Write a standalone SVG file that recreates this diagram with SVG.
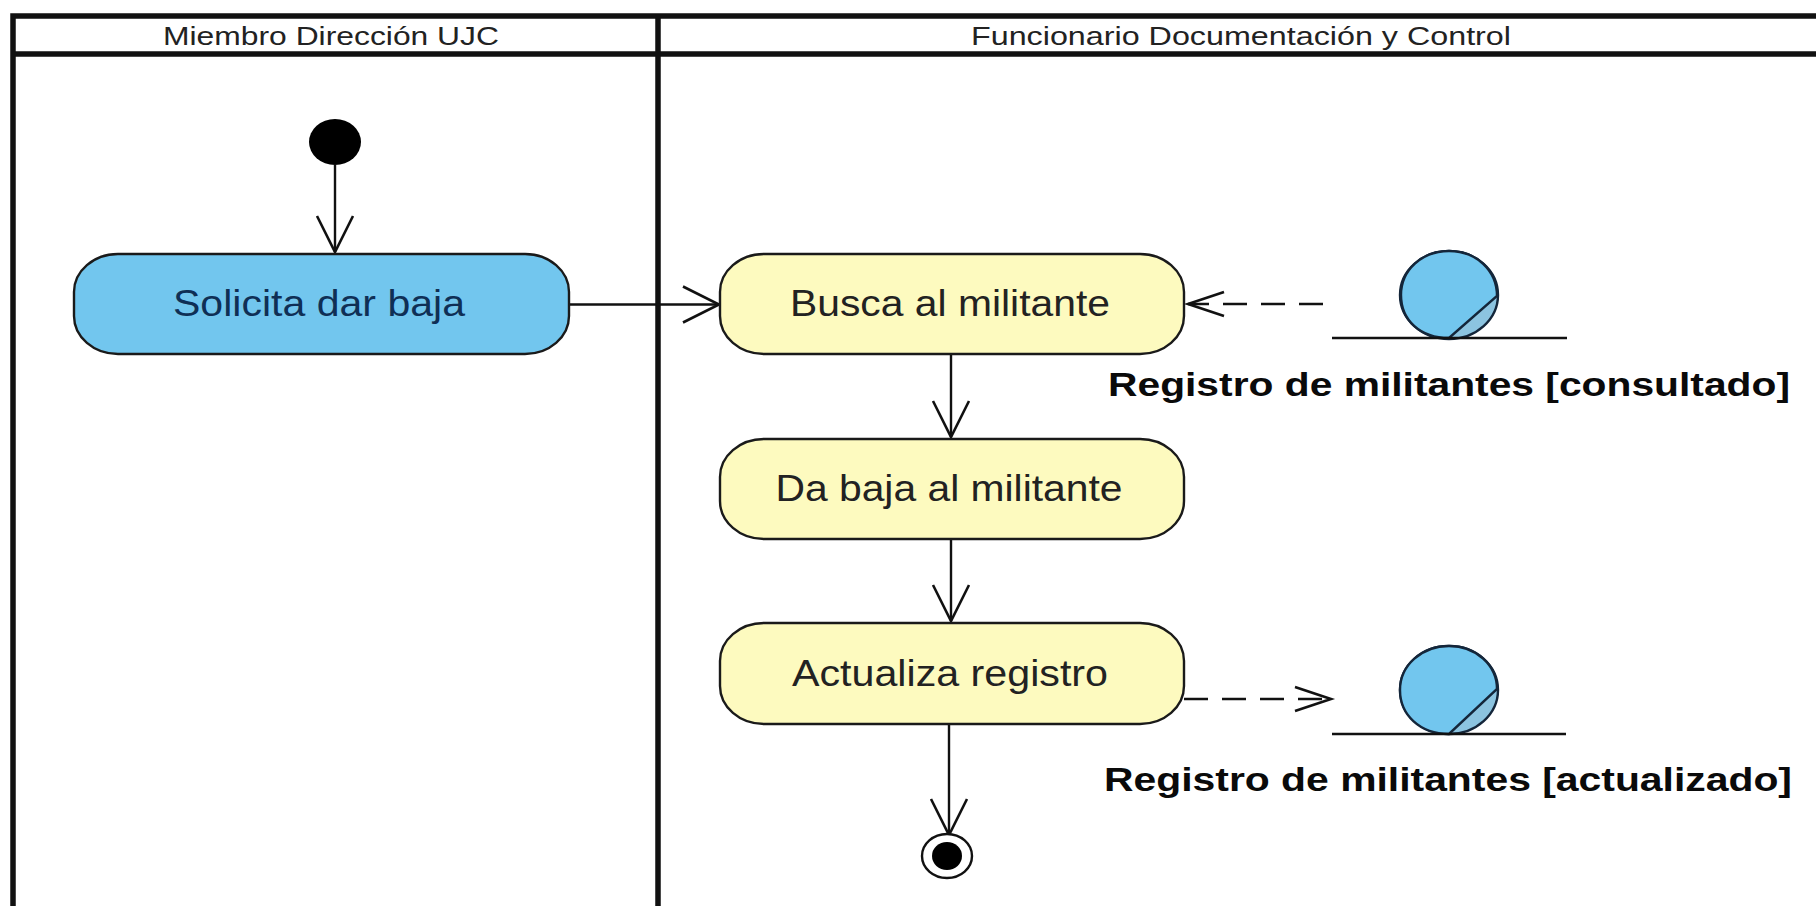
<svg xmlns="http://www.w3.org/2000/svg" width="1816" height="906" viewBox="0 0 1816 906">
<defs>
<marker id="open" markerUnits="userSpaceOnUse" markerWidth="60" markerHeight="60" refX="36" refY="18" orient="auto" overflow="visible"><path d="M0 0L36 18L0 36" fill="none" stroke="#111" stroke-width="2.6"/></marker>
<marker id="openDash" markerUnits="userSpaceOnUse" markerWidth="60" markerHeight="60" refX="36" refY="12" orient="auto" overflow="visible"><path d="M0 0L36 12L0 24" fill="none" stroke="#111" stroke-width="2.6"/></marker>
</defs>
<style>
text{font-family:"Liberation Sans",Arial,sans-serif;text-anchor:middle;fill:#222}
.lane{stroke:#111;stroke-width:5.5;fill:none}
.head{font-size:26px}
.act{stroke:#1a1a1a;stroke-width:2.4}
.label{font-size:36px}
.bold{font-size:34px;font-weight:bold;fill:#0a0a0a}
.conn{stroke:#111;stroke-width:2.4;fill:none;marker-end:url(#open)}
.dash{stroke-dasharray:24 14;marker-end:url(#openDash)}
.ob{fill:#72c6ee;stroke:#14263a;stroke-width:2.4}
.obs{fill:#8cc4e0;stroke:#14263a;stroke-width:2.4}
.base{stroke:#111;stroke-width:2.4}
</style>
<rect width="1816" height="906" fill="#fff"/>
<g id="swimlanes">
<path class="lane" d="M1816 16H13V906M13 54H1816M658 16V906"/>
<text class="head" x="331" y="45" textLength="336" lengthAdjust="spacingAndGlyphs">Miembro Dirección UJC</text>
<text class="head" x="1241" y="45" textLength="540" lengthAdjust="spacingAndGlyphs">Funcionario Documentación y Control</text>
</g>
<g id="connectors">
<path class="conn" d="M335 165V252"/>
<path class="conn" d="M569 304.500H719"/>
<path class="conn" d="M951 354V437"/>
<path class="conn" d="M951 538V621"/>
<path class="conn dash" d="M1323 304H1188"/>
<path class="conn dash" d="M1184 699H1331"/>
<path class="conn" d="M949 724V835"/>
</g>
<g id="start"><ellipse cx="335" cy="142" rx="26" ry="23" fill="#000"/></g>
<g id="solicita"><rect class="act" x="74" y="254" width="495" height="100" rx="44" ry="38" fill="#72c6ee"/><text class="label" x="319" y="316" textLength="292" lengthAdjust="spacingAndGlyphs" style="fill:#0f2f55">Solicita dar baja</text></g>
<g id="busca"><rect class="act" x="720" y="254" width="464" height="100" rx="44" ry="38" fill="#fdfabf"/><text class="label" x="950" y="316" textLength="320" lengthAdjust="spacingAndGlyphs">Busca al militante</text></g>
<g id="baja"><rect class="act" x="720" y="439" width="464" height="100" rx="44" ry="38" fill="#fdfabf"/><text class="label" x="949" y="501" textLength="347" lengthAdjust="spacingAndGlyphs">Da baja al militante</text></g>
<g id="actualiza"><rect class="act" x="720" y="623" width="464" height="101" rx="44" ry="38" fill="#fdfabf"/><text class="label" x="950" y="686" textLength="316" lengthAdjust="spacingAndGlyphs">Actualiza registro</text></g>
<g id="registro-consultado">
<ellipse class="obs" cx="1449" cy="295" rx="49" ry="44"/>
<path class="ob" d="M1449 338C1420 338 1401 320 1401 295C1401 270 1422 251 1449 251C1476 251 1497 270 1497 296Z"/>
<line class="base" x1="1332" y1="338" x2="1567" y2="338"/>
<text class="bold" x="1449" y="396" textLength="682" lengthAdjust="spacingAndGlyphs">Registro de militantes [consultado]</text>
</g>
<g id="registro-actualizado">
<ellipse class="obs" cx="1449" cy="690" rx="49" ry="44"/>
<path class="ob" d="M1449 734C1420 734 1400 715 1400 690C1400 665 1422 646 1449 646C1476 646 1497 665 1497 689Z"/>
<line class="base" x1="1332" y1="734" x2="1566" y2="734"/>
<text class="bold" x="1448" y="791" textLength="688" lengthAdjust="spacingAndGlyphs">Registro de militantes [actualizado]</text>
</g>
<g id="end"><ellipse cx="947" cy="856" rx="25" ry="22" fill="#fff" stroke="#111" stroke-width="2.4"/><ellipse cx="947" cy="856" rx="15" ry="14" fill="#000"/></g>
</svg>
